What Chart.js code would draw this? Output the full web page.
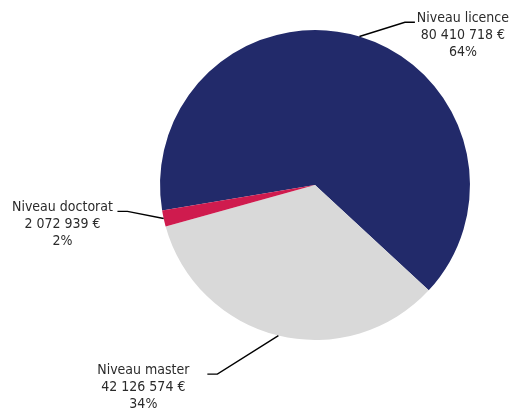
<!DOCTYPE html>
<html>
<head>
<meta charset="utf-8">
<script src="https://cdn.jsdelivr.net/npm/chart.js@4/dist/chart.umd.min.js"></script>
<style>
html,body{margin:0;padding:0;background:#fff;}
#wrap{width:510px;height:409px;position:relative;}
</style>
</head>
<body>
<div id="wrap"><canvas id="c" width="510" height="409"></canvas></div>
<script>
const categories = ["Niveau licence", "Niveau master", "Niveau doctorat"];
const amounts = [80410718, 42126574, 2072939];
const amountLabels = ["80 410 718 €", "42 126 574 €", "2 072 939 €"];
const percentLabels = ["64%", "34%", "2%"];
const colors = ["#222A6A", "#D9D9D9", "#CF1B4E"];
// elbow positions relative to pie centre, in units of radius; text centre offset from line end
const elbowLayout = [
  {x: 0.58, y: -1.05, side: 1, text: 48},
  {x: -0.63, y: 1.22, side: -1, text: -64},
  {x: -1.21, y: 0.17, side: -1, text: -55}
];

const labelPlugin = {
  id: 'leaderLabels',
  afterDatasetsDraw(chart) {
    const ctx = chart.ctx;
    const meta = chart.getDatasetMeta(0);
    ctx.save();
    ctx.font = '14px "DejaVu Sans Condensed", "DejaVu Sans", sans-serif';
    ctx.fillStyle = '#2b2b2b';
    ctx.strokeStyle = '#000';
    ctx.lineWidth = 1.4;
    ctx.textBaseline = 'middle';
    ctx.textAlign = 'center';
    meta.data.forEach((arc, i) => {
      const p = arc.getProps(['x','y','startAngle','endAngle','outerRadius'], true);
      const mid = (p.startAngle + p.endAngle) / 2;
      const ax = p.x + Math.cos(mid) * p.outerRadius;
      const ay = p.y + Math.sin(mid) * p.outerRadius;
      const L = elbowLayout[i];
      const ex = p.x + L.x * p.outerRadius;
      const ey = p.y + L.y * p.outerRadius;
      const hx = ex + L.side * 10;
      ctx.beginPath();
      ctx.moveTo(ax, ay);
      ctx.lineTo(ex, ey);
      ctx.lineTo(hx, ey);
      ctx.stroke();
      const lines = [categories[i], amountLabels[i], percentLabels[i]];
      const cx = hx + L.text;
      const y0 = ey - 4;
      lines.forEach((t, k) => ctx.fillText(t, cx, y0 + k * 17));
    });
    ctx.restore();
  }
};

new Chart(document.getElementById('c'), {
  type: 'pie',
  data: {
    labels: categories,
    datasets: [{
      data: amounts,
      backgroundColor: colors,
      borderWidth: 0
    }]
  },
  options: {
    responsive: false,
    animation: false,
    rotation: 260.5,
    layout: {padding: {left: 160, right: 40, top: 30, bottom: 69}},
    plugins: {legend: {display: false}, tooltip: {enabled: false}}
  },
  plugins: [labelPlugin]
});
</script>
</body>
</html>
